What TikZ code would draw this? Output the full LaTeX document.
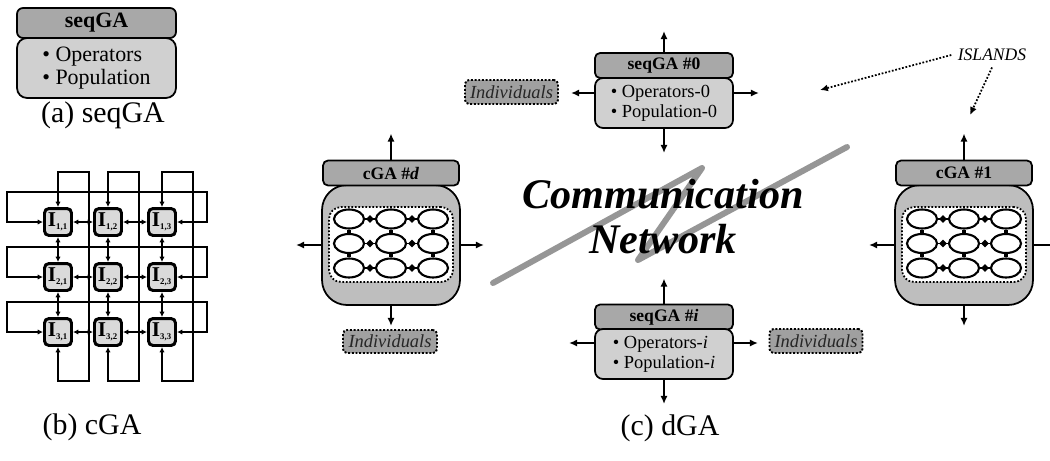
\documentclass[tikz,border=0pt]{standalone}
\usepackage{fontspec}
\setmainfont{Liberation Serif}
\usetikzlibrary{arrows.meta, shapes.geometric}

\definecolor{hdrgray}{RGB}{168,168,168}
\definecolor{bodygray}{RGB}{208,208,208}
\definecolor{islgray}{RGB}{190,190,190}
\definecolor{indgray}{RGB}{160,160,160}
\definecolor{cellgray}{RGB}{218,218,218}
\definecolor{netgray}{RGB}{150,150,150}

\tikzset{
  hdr/.style = {draw, line width = 1pt, fill = hdrgray, rounded corners = 0.1cm, minimum width = 2.76cm, minimum height = 0.5cm, inner sep = 0pt, font = \fontsize{10}{12}\selectfont\bfseries},
  opsbox/.style = {draw, line width = 1pt, fill = bodygray, rounded corners = 0.16cm, minimum width = 2.76cm, minimum height = 1cm, inner sep = 0pt, align = left, font = \fontsize{10.5}{11.5}\selectfont},
  islbox/.style = {draw, line width = 1pt, fill = islgray, rounded corners = 0.5cm, minimum width = 2.76cm, minimum height = 2.4cm},
  gridbox/.style = {draw, densely dotted, line width = 1pt, fill = white, rounded corners = 0.24cm, minimum width = 2.48cm, minimum height = 1.5cm},
  indiv/.style = {draw, densely dotted, line width = 1.1pt, fill = indgray, rounded corners = 0.08cm, minimum width = 1.86cm, minimum height = 0.48cm, inner sep = 0pt, text = black!85, font = \fontsize{10.5}{12}\selectfont\itshape},
  subpop/.style = {draw, ellipse, line width = 1.2pt, fill = white, minimum width = 0.6cm, minimum height = 0.38cm, inner sep = 0pt},
  joint/.style = {fill, diamond, minimum size = 0.17cm, inner sep = 0pt},
  cell/.style = {draw, line width = 1.7pt, fill = cellgray, rounded corners = 0.09cm, minimum size = 0.54cm, inner sep = 0pt, font = \fontsize{12}{12}\selectfont\bfseries},
  wire/.style = {line width = 0.8pt, {Latex[length = 3pt, width = 3pt]}-{Latex[length = 3pt, width = 3pt]}},
  capt/.style = {font = \fontsize{17}{20}\selectfont},
}

\begin{document}
\begin{tikzpicture}[x = 0.02cm, y = -0.02cm, > = {Latex[length = 4.5pt, width = 4pt]}, line width = 0.8pt]
  \path[use as bounding box, fill = white] (0, 0) rectangle (1050, 460);

  % (a) seqGA
  \node[hdr, minimum width = 3.18cm, minimum height = 0.6cm, rounded corners = 0.12cm, font = \fontsize{12.5}{14}\selectfont\bfseries] (ahdr) at (96.5, 23) {seqGA};
  \node[opsbox, minimum width = 3.18cm, minimum height = 1.2cm, rounded corners = 0.2cm, font = \fontsize{12.5}{12.8}\selectfont] (abody) at (96.5, 68) {\textbullet\ Operators\\\textbullet\ Population};
  \node[capt] (acap) at (103, 115) {(a) seqGA};

  % (b) cGA
  \foreach \rw/\y in {1/222, 2/277, 3/332}
    \foreach \cl/\x in {1/58, 2/108, 3/162}
      \node[cell] (c\rw\cl) at (\x, \y) {I\textsubscript{\fontsize{5}{5}\selectfont\rw,\cl}};
  \foreach \ii/\jj in {1/2, 2/3} {
    \foreach \kk in {1, 2, 3} {
      \draw[wire] (c\kk\ii) -- (c\kk\jj);
      \draw[wire] (c\ii\kk) -- (c\jj\kk);
    }
  }
  \foreach \kk in {1, 2, 3} {
    \draw[wire] (c\kk1.west) -- ++(-36, 0) -- ++(0, -30) -- ++(200, 0) |- (c\kk3.east);
    \draw[wire] (c1\kk.north) -- ++(0, -35) -- ++(31, 0) -- ++(0, 209) -| (c3\kk.south);
  }
  \node[capt] (bcap) at (92, 427) {(b) cGA};

  % (c) dGA
  \draw[netgray, line width = 3.4pt, line cap = round, line join = round] (493, 283) -- (702, 168) -- (638, 260) -- (847, 147);
  \node[font = \fontsize{24}{25.6}\selectfont\bfseries\itshape, align = center] (net) at (663, 217) {Communication\\Network};

  \node[hdr] (h0) at (664, 65.5) {seqGA \#0};
  \node[opsbox] (b0) at (664, 103) {\textbullet\ Operators-0\\\textbullet\ Population-0};
  \draw[->] (h0.north) -- ++(0, -21);
  \draw[->] (b0.south) -- ++(0, 24);
  \draw[->] ([yshift = 0.2cm]b0.west) -- ++(-23, 0);
  \draw[->] ([yshift = 0.2cm]b0.east) -- ++(25, 0);
  \node[indiv] (ind0) at (511.5, 92) {Individuals};

  \node[hdr] (hi) at (664, 317) {seqGA \#\textit{i}};
  \node[opsbox] (bi) at (664, 354) {\textbullet\ Operators-\textit{i}\\\textbullet\ Population-\textit{i}};
  \draw[->] (hi.north) -- ++(0, -25);
  \draw[->] (bi.south) -- ++(0, 24);
  \draw[->] ([yshift = 0.22cm]bi.west) -- ++(-25, 0);
  \draw[->] ([yshift = 0.22cm]bi.east) -- ++(24, 0);
  \node[indiv] (indi) at (816, 341) {Individuals};

  \foreach \n/\cx/\lbl in {d/391/\textit{d}, 1/964/1} {
    \node[islbox] (cb\n) at (\cx, 245) {};
    \node[hdr, minimum width = 2.72cm] (ch\n) at (\cx, 173) {cGA \#\lbl};
    \node[gridbox] (cg\n) at (\cx, 244.5) {};
    \foreach \rw in {1, 2, 3}
      \foreach \cl in {1, 2, 3}
        \node[subpop] (e\n\rw\cl) at ({\cx + (\cl - 2) * 42}, {243.5 + (\rw - 2) * 24.5}) {};
    \foreach \kk in {1, 2, 3} {
      \draw (e\n\kk1) -- node[joint] {} (e\n\kk2);
      \draw (e\n\kk2) -- node[joint] {} (e\n\kk3);
      \draw[line width = 2pt] (e\n1\kk) -- (e\n2\kk);
      \draw[line width = 2pt] (e\n2\kk) -- (e\n3\kk);
    }
    \draw[->] (ch\n.north) -- ++(0, -26);
    \draw[->] (cb\n.west) -- ++(-25, 0);
    \draw[->] (cb\n.south) -- ++(0, 20);
  }
  \draw[->] (cbd.east) -- ++(23, 0);
  \draw (cb1.east) -- ++(17, 0);
  \node[indiv, minimum width = 1.88cm, minimum height = 0.46cm] (indd) at (390, 341.5) {Individuals};

  \node[font = \fontsize{10}{12}\selectfont\itshape] (isl) at (992, 55) {ISLANDS};
  \coordinate (islA) at (820, 90);
  \coordinate (islB) at (970, 115);
  \draw[->, densely dotted, line width = 1pt] (isl.west) -- (islA);
  \draw[->, densely dotted, line width = 1pt] (isl.south) -- (islB);

  \node[capt] (ccap) at (670, 428) {(c) dGA};
\end{tikzpicture}
\end{document}
